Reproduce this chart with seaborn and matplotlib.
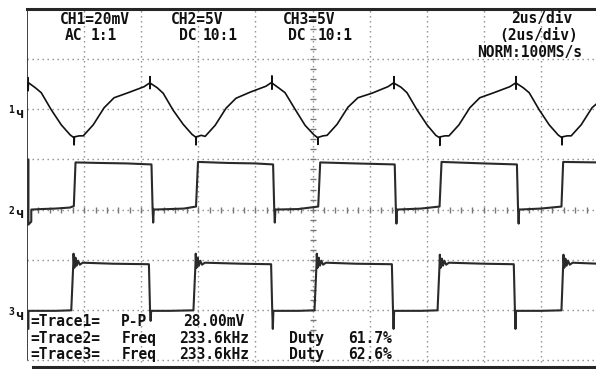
import numpy as np
import pandas as pd
import seaborn as sns
import matplotlib.pyplot as plt

# ---- scope settings ----
ch1_mv_per_div = 20.0
ch2_v_per_div = 5.0
ch3_v_per_div = 5.0
us_per_div = 2.0
ground_div = {"CH1": 5, "CH2": 3, "CH3": 1}

# ---- CH1: inductor ripple (time in us, value in mV) ----
ch1_t = [0.04, 0.04, 0.05, 0.29, 0.50, 0.85, 1.20, 1.51, 1.65, 1.65, 1.66, 1.83, 1.97, 2.32, 2.70, 3.05, 3.54, 4.10,
         4.31, 4.31, 4.31, 4.32, 4.56, 4.77, 5.12, 5.47, 5.78, 5.92, 5.92, 5.93, 6.10, 6.24, 6.59, 6.97, 7.32, 7.81, 8.37,
         8.58, 8.58, 8.58, 8.59, 8.83, 9.04, 9.39, 9.74, 10.05, 10.19, 10.19, 10.20, 10.37, 10.51, 10.86, 11.24, 11.59, 12.08, 12.64,
         12.85, 12.85, 12.85, 12.86, 13.10, 13.31, 13.66, 14.01, 14.32, 14.46, 14.46, 14.47, 14.64, 14.78, 15.13, 15.51, 15.86, 16.35, 16.91,
         17.13, 17.13, 17.13, 17.14, 17.38, 17.59, 17.94, 18.29, 18.60, 18.74, 18.74, 18.75, 18.92, 19.06, 19.41, 19.79, 19.95]
ch1_mv = [12.6, 7.4, 10.6, 8.6, 6.6, -0.2, -6.2, -10.2, -11.4, -14.2, -11.0, -10.6, -10.6, -6.2, 0.6, 4.6, 6.6, 9.0,
          10.6, 13.0, 8.2, 10.4, 8.6, 6.4, -0.4, -6.0, -10.0, -11.2, -14.2, -11.0, -10.4, -10.8, -6.4, 0.4, 4.4, 6.8, 9.2,
          10.8, 13.2, 8.0, 10.4, 8.4, 6.6, 0.0, -6.4, -10.2, -11.4, -14.0, -11.2, -10.6, -10.4, -6.0, 0.8, 4.6, 6.4, 9.0,
          10.6, 13.0, 8.2, 10.4, 8.8, 6.6, -0.2, -6.2, -10.4, -11.4, -14.4, -11.0, -10.6, -10.6, -6.2, 0.6, 4.6, 6.6, 9.0,
          10.6, 13.0, 8.0, 10.4, 8.6, 6.6, -0.2, -6.2, -10.2, -11.4, -14.2, -11.0, -10.6, -10.6, -6.2, 0.6, 2.2]

# ---- CH2: switch node (time in us, volts) ----
ch2_t = [0.05, 0.05, 0.15, 0.15, 0.50, 1.00, 1.50, 1.64, 1.70, 2.50, 3.50, 4.36, 4.40, 4.42, 4.44,
         5.00, 5.50, 5.92, 5.99, 7.00, 8.00, 8.62, 8.66, 8.68, 8.70,
         9.50, 10.20, 10.27, 11.50, 12.88, 12.92, 12.94, 12.96,
         13.80, 14.45, 14.52, 16.00, 17.16, 17.20, 17.22, 17.24,
         18.00, 18.72, 18.78, 20.00]
ch2_v = [5.0, -1.5, -1.2, 0.0, 0.05, 0.1, 0.2, 0.35, 4.7, 4.65, 4.6, 4.5, 0.0, -1.3, 0.0,
         0.05, 0.1, 0.3, 4.75, 4.65, 4.6, 4.5, 0.0, -1.3, 0.0,
         0.05, 0.3, 4.7, 4.6, 4.5, 0.0, -1.4, 0.0,
         0.1, 0.3, 4.75, 4.6, 4.5, 0.0, -1.4, 0.0,
         0.1, 0.3, 4.75, 4.7]

# ---- CH3: gate drive (time in us, volts) ----
ch3_t = [0.05, 0.05, 0.10, 1.00, 1.55, 1.62, 1.63, 1.66, 1.70, 1.74, 1.79, 1.85, 1.95, 3.00, 4.27, 4.31, 4.33, 4.35,
         5.00, 5.83, 5.90, 5.91, 5.94, 5.98, 6.02, 6.07, 6.13, 6.23, 7.50, 8.55, 8.59, 8.61, 8.63,
         9.50, 10.07, 10.14, 10.15, 10.18, 10.22, 10.26, 10.31, 10.37, 10.47, 11.50, 12.78, 12.82, 12.84, 12.86,
         13.80, 14.38, 14.45, 14.46, 14.49, 14.53, 14.57, 14.62, 14.68, 14.78, 16.00, 17.05, 17.09, 17.11, 17.13,
         18.00, 18.72, 18.78, 18.79, 18.82, 18.86, 18.90, 18.95, 19.01, 19.11, 20.00]
ch3_v = [-1.9, -0.1, -0.1, -0.1, -0.05, 4.5, 5.6, 4.2, 5.2, 4.4, 4.9, 4.5, 4.7, 4.6, 4.55, -0.1, -1.1, -0.1,
         -0.1, -0.05, 4.5, 5.6, 4.2, 5.2, 4.4, 4.9, 4.5, 4.7, 4.6, 4.55, -0.1, -1.9, -0.1,
         -0.1, -0.05, 4.5, 5.6, 4.2, 5.2, 4.4, 4.9, 4.5, 4.7, 4.6, 4.55, -0.1, -1.9, -0.1,
         -0.1, -0.05, 4.5, 5.5, 4.2, 5.1, 4.4, 4.9, 4.5, 4.7, 4.6, 4.55, -0.1, -1.9, -0.1,
         -0.1, -0.05, 4.5, 5.5, 4.2, 5.1, 4.4, 4.9, 4.5, 4.7, 4.6]

# ---- on-screen labels ----
header_rows = [
    [("CH1=20mV", 94.5), ("CH2=5V", 197), ("CH3=5V", 309), ("2us/div", 542)],
    [("AC", 73.5), ("1:1", 103.5), ("DC", 187.5), ("10:1", 220.5), ("DC", 297), ("10:1", 335.5), ("(2us/div)", 538.5)],
    [("NORM:100MS/s", 530)],
]
header_y = [17.5, 34, 51]
measure_rows = [
    [("=Trace1=", 65), ("P-P", 134.5), ("28.00mV", 213.5)],
    [("=Trace2=", 65), ("Freq", 139.5), ("233.6kHz", 214.5), ("Duty", 307), ("61.7%", 370.5)],
    [("=Trace3=", 65), ("Freq", 139.5), ("233.6kHz", 214.5), ("Duty", 307), ("62.6%", 370.5)],
]
measure_y = [320, 337, 353]

# scale everything to screen divisions
df1 = pd.DataFrame({"t": ch1_t, "div": ground_div["CH1"] + np.array(ch1_mv) / ch1_mv_per_div})
df2 = pd.DataFrame({"t": ch2_t, "div": ground_div["CH2"] + np.array(ch2_v) / ch2_v_per_div})
df3 = pd.DataFrame({"t": ch3_t, "div": ground_div["CH3"] + np.array(ch3_v) / ch3_v_per_div})

sns.set_style("white")
plt.rcParams['font.family'] = ['DejaVu Sans Mono', 'DejaVu Sans']

W, H = 596, 369
fig = plt.figure(figsize=(W / 100, H / 100), dpi=100)
fig.patch.set_facecolor("white")
ax = fig.add_axes([27 / W, 2 / H, 571 / W, 358 / H])
ax.set_xlim(0, 10 * us_per_div)
ax.set_ylim(-0.14, 7.0)
ax.set_facecolor("white")

# dotted graticule
dot = dict(color="#8a8a8a", lw=1.0, linestyle=(0, (1, 2.6)), zorder=1)
for k in range(0, 7):
    ax.axhline(k, **dot)
for k in range(1, 10):
    ax.axvline(k * us_per_div, **dot)
# centre axes with minor ticks
ax.plot(np.full(35, 10.0), np.arange(0, 7, 0.2), ls="none", marker="_", ms=5, mew=1, color="#777777", zorder=1)
ax.plot(np.arange(0.4, 20, 0.4), np.full(49, 3.0), ls="none", marker="|", ms=5, mew=1, color="#777777", zorder=1)

# frame
for side in ["right", "left"]:
    ax.spines[side].set_visible(False)
ax.spines["top"].set_linewidth(2.2)
ax.spines["bottom"].set_linewidth(2.2)
ax.spines["bottom"].set_bounds(0.2, 20)
ax.plot([0, 0], [0, 7], color="#333333", lw=1.3, zorder=2)
ax.set_xticks([])
ax.set_yticks([])

# traces
sns.lineplot(data=df1, x="t", y="div", sort=False, estimator=None, ax=ax, color="#111111", lw=1.2, zorder=3)
sns.lineplot(data=df2, x="t", y="div", sort=False, estimator=None, ax=ax, color="#2a2a2a", lw=1.5, zorder=3)
sns.lineplot(data=df3, x="t", y="div", sort=False, estimator=None, ax=ax, color="#2a2a2a", lw=1.5, zorder=3)
ax.set_xlabel("")
ax.set_ylabel("")


def put(txt, x, y, size=10.5):
    fig.text(x / W, 1 - y / H, txt, ha="center", va="center_baseline", fontsize=size,
             fontweight="bold", color="#111111")


for row, yy in zip(header_rows, header_y):
    for txt, xx in row:
        put(txt, xx, yy)
for row, yy in zip(measure_rows, measure_y):
    for txt, xx in row:
        put(txt, xx, yy)

# ground markers
for name, gy in zip(["1", "2", "3"], [110, 211, 312]):
    put(name, 11, gy - 1, size=7)
    put("ч", 19, gy + 2, size=10)

fig.savefig("out.png", dpi=100, facecolor="white")
